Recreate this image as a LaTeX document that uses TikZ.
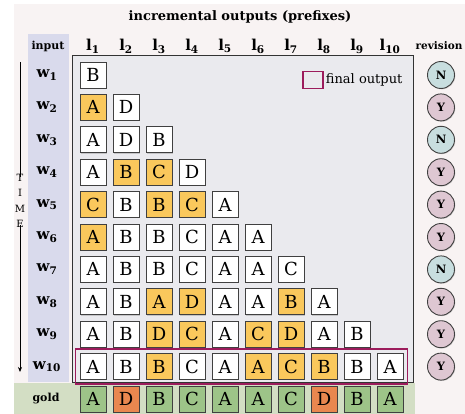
\documentclass[tikz,border=0pt]{standalone}
\usepackage{fontspec}
\setmainfont{DejaVu Serif}
\usetikzlibrary{shadows,arrows.meta}
\definecolor{bgpink}{HTML}{F8F3F3}
\definecolor{inputcol}{HTML}{D9DAEC}
\definecolor{panelgray}{HTML}{EAEAEE}
\definecolor{goldband}{HTML}{D3DEC4}
\definecolor{hlorange}{HTML}{FAC85C}
\definecolor{goldgreen}{HTML}{9DC488}
\definecolor{goldred}{HTML}{E9874F}
\definecolor{revnocol}{HTML}{C8DEDF}
\definecolor{revyescol}{HTML}{DEC7D2}
\definecolor{finalbox}{HTML}{9C1C5C}
\tikzset{
  cell/.style={draw=black!75, line width=0.9pt, minimum size=26pt, inner sep=0pt,
    fill=white, font=\fontsize{18}{18}\selectfont,
    drop shadow={shadow xshift=0.8pt, shadow yshift=-0.8pt, opacity=0.35}},
  pl/.style={fill=white},
  hl/.style={fill=hlorange},
  gr/.style={fill=goldgreen},
  rd/.style={fill=goldred},
  rowlab/.style={font=\fontsize{15}{15}\selectfont\bfseries},
  collab/.style={font=\fontsize{15}{15}\selectfont\bfseries},
  hdr/.style={font=\fontsize{11}{11}\selectfont\bfseries},
  rev/.style={circle, draw=black!75, line width=0.9pt, minimum size=27pt, inner sep=0pt,
    font=\fontsize{11.5}{11.5}\selectfont\bfseries,
    drop shadow={shadow xshift=0.8pt, shadow yshift=-0.8pt, opacity=0.35}},
  revno/.style={rev, fill=revnocol},
  revyes/.style={rev, fill=revyescol},
}
\begin{document}
\begin{tikzpicture}[x=1pt,y=-1pt]
  % Configurable parameters
  \def\colx{33}
  \def\rowy{32.4}
  %
  \useasboundingbox (0,0) rectangle (465,414);
  %
  % Backgrounds
  \fill[bgpink] (14,4) rectangle (465,414);
  \fill[inputcol] (28,34) rectangle (69,382);
  \filldraw[fill=panelgray, draw=black!80, line width=0.6pt] (72,55) rectangle (413,382);
  \fill[goldband] (14,383) rectangle (415,414);
  %
  % Headers
  \node[font=\fontsize{13}{13}\selectfont\bfseries] (title) at (240,17) {incremental outputs (prefixes)};
  \node[hdr] (input) at (48,46) {input};
  \node[hdr, font=\fontsize{10.5}{10.5}\selectfont\bfseries] (revision) at (439,46) {revision};
  \node[hdr] (gold) at (46,399) {gold};
  \foreach \c in {1,...,10}
    \node[collab] (l-\c) at ({60+\colx*\c},46) {l\textsubscript{\c}};
  \foreach \r in {1,...,10}
    \node[rowlab] (w-\r) at (47,{42.6+\rowy*\r}) {w\textsubscript{\r}};
  %
  % Time axis
  \node[align=center, inner sep=1pt, font=\fontsize{10}{15.5}\selectfont] (time) at (20,201) {T\\I\\M\\E};
  \coordinate (time-top) at (20,62);
  \coordinate (time-end) at (20,372);
  \draw[line width=0.8pt] (time-top) -- ([yshift=-4pt]time.north);
  \draw[line width=0.8pt, -{Stealth[length=5pt,width=4pt]}] ([yshift=4pt]time.south) -- (time-end);
  %
  % Prefix outputs
  \foreach \r/\cells in {
    1/{B/pl},
    2/{A/hl,D/pl},
    3/{A/pl,D/pl,B/pl},
    4/{A/pl,B/hl,C/hl,D/pl},
    5/{C/hl,B/pl,B/hl,C/hl,A/pl},
    6/{A/hl,B/pl,B/pl,C/pl,A/pl,A/pl},
    7/{A/pl,B/pl,B/pl,C/pl,A/pl,A/pl,C/pl},
    8/{A/pl,B/pl,A/hl,D/hl,A/pl,A/pl,B/hl,A/pl},
    9/{A/pl,B/pl,D/hl,C/hl,A/pl,C/hl,D/hl,A/pl,B/pl},
    10/{A/pl,B/pl,B/hl,C/pl,A/pl,A/hl,C/hl,B/hl,B/pl,A/pl}}{
    \foreach \t/\s [count=\c] in \cells
      \node[cell,\s] (c-\r-\c) at ({60+\colx*\c},{42.6+\rowy*\r}) {\t};
  }
  %
  % Gold labels
  \foreach \t/\s [count=\c] in {A/gr,D/rd,B/gr,C/gr,A/gr,A/gr,C/gr,D/rd,B/gr,A/gr}
    \node[cell,\s] (g-\c) at ({60+\colx*\c},399) {\t};
  %
  % Revisions
  \foreach \r/\v/\s in {1/N/revno,2/Y/revyes,3/N/revno,4/Y/revyes,5/Y/revyes,
      6/Y/revyes,7/N/revno,8/Y/revyes,9/Y/revyes,10/Y/revyes}
    \node[\s] (rev-\r) at (441,{42.6+\rowy*\r}) {\v};
  %
  % Final output
  \draw[finalbox, line width=1.8pt] ([shift={(-4pt,-4pt)}]c-10-1.south west) rectangle ([shift={(4pt,4pt)}]c-10-10.north east);
  \node[draw=finalbox, line width=1.5pt, minimum width=20pt, minimum height=17pt, inner sep=0pt] (legend) at (313,80) {};
  \node[anchor=west, font=\fontsize{13}{13}\selectfont, inner sep=2pt] (legend-text) at (legend.east) {final output};
\end{tikzpicture}
\end{document}
